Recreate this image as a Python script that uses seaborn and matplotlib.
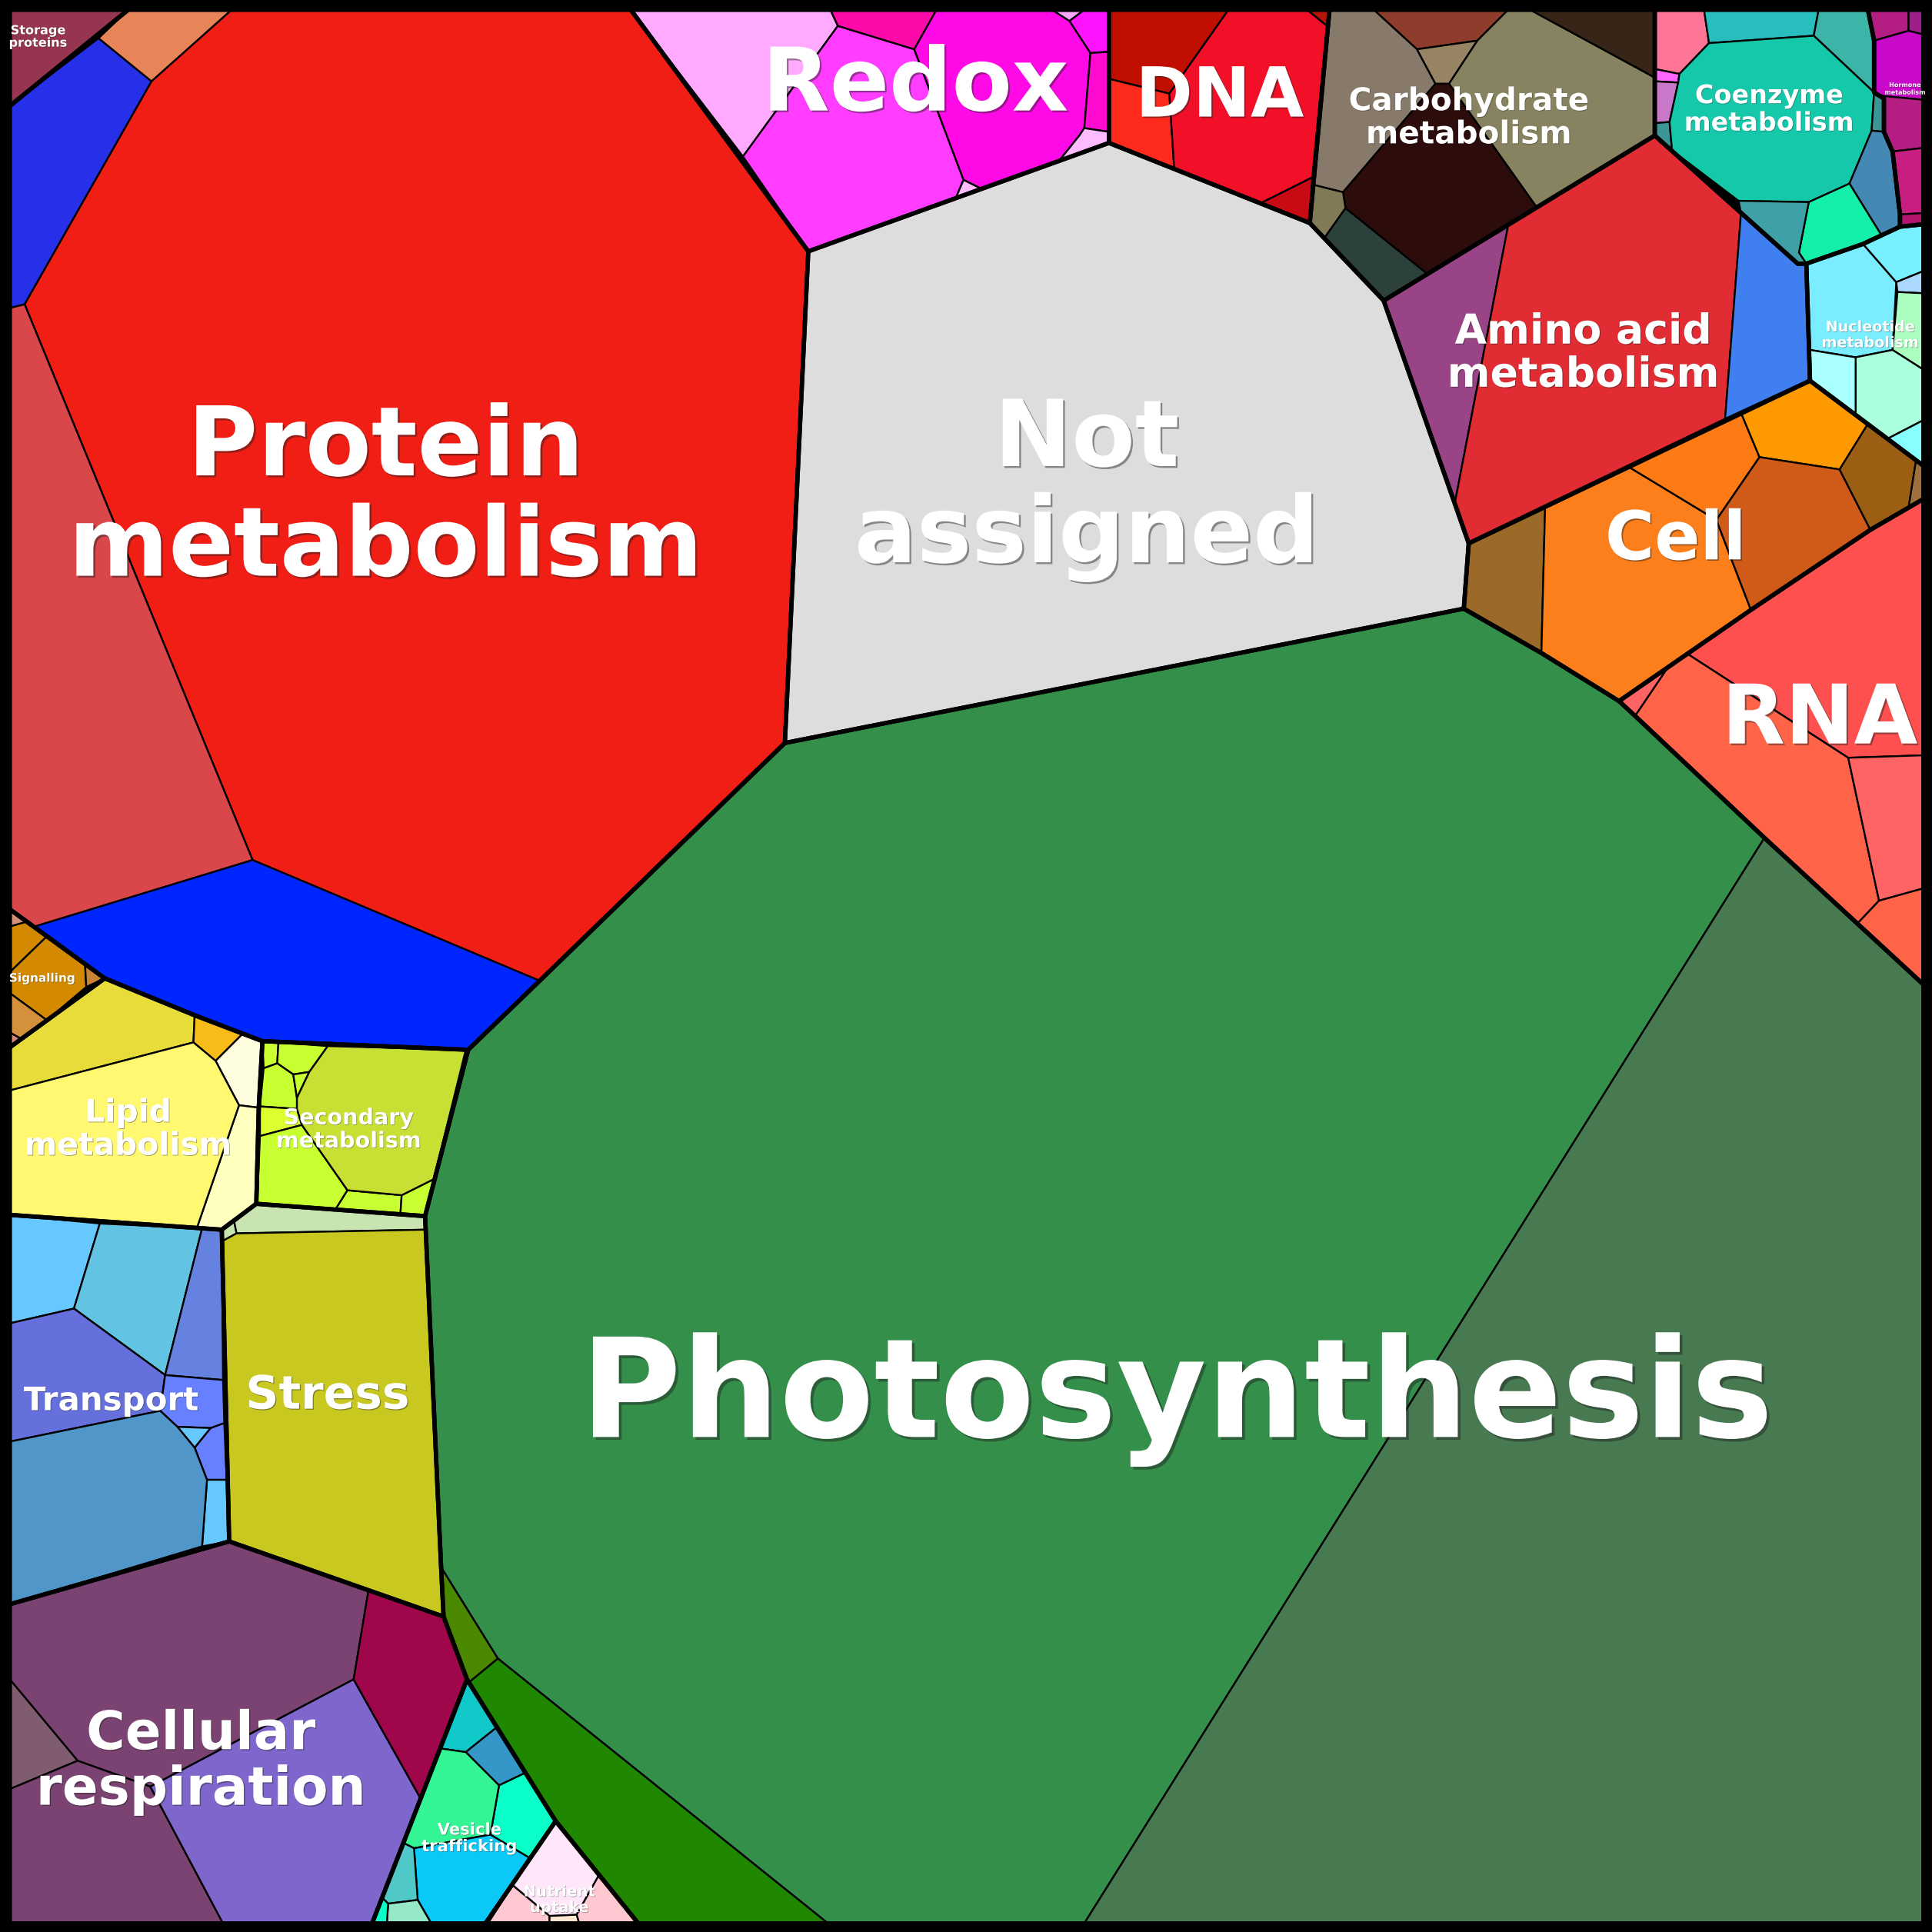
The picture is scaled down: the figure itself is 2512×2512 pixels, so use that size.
import matplotlib
matplotlib.use("Agg")
import matplotlib.pyplot as plt
import matplotlib.patheffects as pe
import seaborn as sns
import pandas as pd

# ---------------- DATA (cell polygons, 1568-px space) -------------
GROUPS = ["Storage proteins", "Protein metabolism", "Redox", "DNA", "Not assigned",
          "Carbohydrate metabolism", "Coenzyme metabolism", "Hormone metabolism",
          "Amino acid metabolism", "Nucleotide metabolism", "Cell", "RNA",
          "Photosynthesis", "Vesicle trafficking", "Nutrient uptake",
          "Cellular respiration", "Transport", "Stress", "Lipid metabolism",
          "Secondary metabolism", "Signalling"]

STORAGE_CELLS = [[(8, 8), (104, 8), (8, 86)]]
STORAGE_OUTLINE = [(8, 8), (104, 8), (8, 86)]

PROTEIN_CELLS = [
    [(8, 86), (80, 31), (123, 66), (20, 247), (8, 250)],
    [(80, 31), (104, 8), (188, 8), (123, 66)],
    [(123, 66), (188, 8), (512, 8), (656, 204), (637, 603), (438, 796), (205, 698), (20, 247)],
    [(8, 250), (20, 247), (205, 698), (28, 752), (8, 738)],
    [(28, 752), (205, 698), (438, 796), (380, 852), (213, 845), (158, 824), (85, 794)],
]
PROTEIN_OUTLINE = [(8, 86), (104, 8), (512, 8), (656, 204), (637, 603), (438, 796), (380, 852),
                   (213, 845), (158, 824), (85, 794), (8, 738)]

REDOX_CELLS = [
    [(512, 8), (674, 8), (680, 21), (603, 127)],
    [(603, 127), (680, 21), (742, 40), (782, 146), (776, 160), (656, 204)],
    [(674, 8), (760, 8), (742, 40), (680, 21)],
    [(742, 40), (760, 8), (854, 8), (868, 17), (885, 43), (880, 104), (876, 110), (860, 130),
     (796, 153), (782, 146)],
    [(782, 146), (796, 153), (776, 160)],
    [(854, 8), (880, 8), (868, 17)],
    [(868, 17), (880, 8), (900, 8), (900, 42), (885, 43)],
    [(885, 43), (900, 42), (900, 107), (880, 104)],
    [(880, 104), (900, 107), (900, 116), (860, 130), (876, 110)],
]
REDOX_OUTLINE = [(512, 8), (900, 8), (900, 116), (656, 204)]

DNA_CELLS = [
    [(900, 8), (997, 8), (949, 76), (900, 64)],
    [(900, 64), (949, 76), (953, 137), (900, 116)],
    [(949, 76), (997, 8), (1061, 8), (1077, 21), (1065, 144), (1023, 165), (963, 141), (953, 137)],
    [(1023, 165), (1065, 144), (1063, 181)],
    [(1061, 8), (1079, 8), (1077, 21)],
]
DNA_OUTLINE = [(900, 8), (1079, 8), (1063, 181), (900, 116)]

NOT_ASSIGNED_CELLS = [[(656, 204), (900, 116), (1063, 181), (1123, 244), (1192, 441),
                       (1188, 494), (637, 603)]]
NOT_ASSIGNED_OUTLINE = NOT_ASSIGNED_CELLS[0]

CARB_CELLS = [
    [(1115, 8), (1224, 8), (1199, 33), (1150, 40)],
    [(1079, 8), (1115, 8), (1150, 40), (1165, 68), (1090, 156), (1066, 150)],
    [(1150, 40), (1199, 33), (1176, 68), (1165, 68)],
    [(1224, 8), (1242, 8), (1343, 63), (1343, 110), (1247, 168), (1176, 68), (1199, 33)],
    [(1242, 8), (1343, 8), (1343, 63)],
    [(1165, 68), (1176, 68), (1247, 168), (1158, 222), (1092, 169), (1090, 156)],
    [(1066, 150), (1090, 156), (1092, 169), (1075, 193), (1063, 181)],
    [(1092, 169), (1158, 222), (1123, 244), (1075, 193)],
]
CARB_OUTLINE = [(1079, 8), (1343, 8), (1343, 110), (1123, 244), (1063, 181)]

COENZYME_CELLS = [
    [(1343, 8), (1383, 8), (1387, 35), (1363, 60), (1343, 56)],
    [(1343, 56), (1363, 60), (1362, 67), (1343, 66)],
    [(1343, 66), (1362, 67), (1355, 99), (1343, 100)],
    [(1343, 100), (1355, 99), (1357, 122), (1343, 110)],
    [(1383, 8), (1476, 8), (1472, 29), (1387, 35)],
    [(1476, 8), (1516, 8), (1521, 33), (1521, 75), (1472, 29)],
    [(1363, 60), (1387, 35), (1472, 29), (1521, 75), (1519, 106), (1501, 149), (1468, 164),
     (1411, 163), (1357, 122), (1355, 99), (1362, 67)],
    [(1521, 75), (1529, 80), (1529, 107), (1519, 106)],
    [(1519, 106), (1529, 107), (1536, 123), (1542, 174), (1542, 184), (1527, 191), (1501, 149)],
    [(1468, 164), (1501, 149), (1527, 191), (1512, 198), (1466, 214), (1460, 205)],
    [(1411, 163), (1468, 164), (1460, 205), (1466, 214), (1459, 214), (1413, 173)],
]
COENZYME_OUTLINE = [(1343, 8), (1516, 8), (1521, 33), (1521, 75), (1529, 80), (1529, 107),
                    (1536, 123), (1542, 174), (1542, 184), (1512, 198), (1466, 214),
                    (1459, 214), (1343, 110)]

HORMONE_CELLS = [
    [(1516, 8), (1549, 8), (1549, 25), (1521, 33)],
    [(1549, 8), (1561, 8), (1561, 28), (1549, 25)],
    [(1521, 33), (1549, 25), (1561, 28), (1561, 81), (1529, 78), (1521, 75)],
    [(1529, 78), (1561, 81), (1561, 120), (1536, 123), (1529, 107)],
    [(1536, 123), (1561, 120), (1561, 173), (1542, 174)],
    [(1542, 174), (1561, 173), (1561, 182), (1542, 184)],
]
HORMONE_OUTLINE = [(1516, 8), (1561, 8), (1561, 182), (1542, 184), (1542, 174), (1536, 123),
                   (1529, 107), (1529, 80), (1521, 75), (1521, 33)]

AMINO_CELLS = [
    [(1123, 244), (1224, 183), (1181, 407)],
    [(1224, 183), (1343, 110), (1413, 173), (1400, 341), (1192, 441), (1181, 407)],
    [(1413, 173), (1459, 214), (1466, 214), (1469, 309), (1400, 341)],
]
AMINO_OUTLINE = [(1123, 244), (1343, 110), (1459, 214), (1466, 214), (1469, 309),
                 (1400, 341), (1192, 441)]

NUCLEOTIDE_CELLS = [
    [(1466, 214), (1512, 198), (1539, 229), (1536, 284), (1506, 290), (1469, 284)],
    [(1512, 198), (1542, 184), (1561, 182), (1561, 220), (1539, 229)],
    [(1539, 229), (1561, 220), (1561, 238), (1540, 237)],
    [(1540, 237), (1561, 238), (1561, 300), (1536, 284)],
    [(1506, 290), (1536, 284), (1561, 300), (1561, 341), (1532, 356), (1506, 336)],
    [(1469, 284), (1506, 290), (1506, 336), (1469, 309)],
    [(1532, 356), (1561, 341), (1561, 378)],
]
NUCLEOTIDE_OUTLINE = [(1466, 214), (1512, 198), (1542, 184), (1561, 182), (1561, 378),
                      (1469, 309)]

CELL_CELLS = [
    [(1192, 441), (1254, 411), (1251, 530), (1188, 494)],
    [(1254, 411), (1322, 379), (1393, 422), (1421, 495), (1314, 569), (1251, 530)],
    [(1322, 379), (1400, 341), (1413, 335), (1428, 371), (1393, 422)],
    [(1413, 335), (1469, 309), (1516, 344), (1493, 381), (1428, 371)],
    [(1428, 371), (1493, 381), (1518, 430), (1421, 495), (1393, 422)],
    [(1493, 381), (1516, 344), (1555, 374), (1549, 412), (1518, 430)],
    [(1555, 374), (1561, 378), (1561, 405), (1549, 412)],
]
CELL_OUTLINE = [(1192, 441), (1469, 309), (1561, 378), (1561, 405), (1518, 430),
                (1421, 495), (1314, 569), (1251, 530), (1188, 494)]

RNA_CELLS = [
    [(1370, 531), (1421, 495), (1518, 430), (1561, 405), (1561, 613), (1500, 615)],
    [(1327, 581), (1354, 541), (1370, 531), (1500, 615), (1525, 731), (1508, 749), (1432, 680)],
    [(1314, 569), (1354, 541), (1327, 581)],
    [(1500, 615), (1561, 613), (1561, 721), (1525, 731)],
    [(1508, 749), (1525, 731), (1561, 721), (1561, 799)],
]
RNA_OUTLINE = [(1314, 569), (1421, 495), (1518, 430), (1561, 405), (1561, 799), (1432, 680),
               (1327, 581)]

PHOTO_CELLS = [
    [(637, 603), (1188, 494), (1251, 530), (1314, 569), (1327, 581), (1432, 680), (880, 1561),
     (672, 1561), (404, 1346), (358, 1272), (345, 987), (380, 852), (438, 796)],
    [(1432, 680), (1561, 799), (1561, 1561), (880, 1561)],
    [(381, 1365), (404, 1346), (672, 1561), (518, 1561), (451, 1478)],
    [(358, 1272), (404, 1346), (381, 1365), (379, 1363), (360, 1312)],
]
PHOTO_OUTLINE = [(637, 603), (1188, 494), (1251, 530), (1314, 569), (1327, 581), (1432, 680),
                 (1561, 799), (1561, 1561), (518, 1561), (451, 1478), (379, 1363), (360, 1312),
                 (358, 1272), (345, 987), (380, 852), (438, 796)]

VESICLE_CELLS = [
    [(379, 1363), (403, 1402), (378, 1422), (357, 1419)],
    [(403, 1402), (426, 1439), (405, 1449), (378, 1422)],
    [(426, 1439), (451, 1478), (430, 1508), (398, 1489), (405, 1449)],
    [(357, 1419), (378, 1422), (405, 1449), (398, 1489), (336, 1500), (328, 1496)],
    [(336, 1500), (398, 1489), (430, 1508), (394, 1561), (350, 1561), (339, 1542)],
    [(328, 1496), (336, 1500), (339, 1542), (315, 1545), (310, 1540)],
    [(315, 1545), (339, 1542), (350, 1561), (314, 1561)],
    [(310, 1540), (315, 1545), (314, 1561), (302, 1561)],
]
VESICLE_OUTLINE = [(379, 1363), (451, 1478), (394, 1561), (302, 1561)]

NUTRIENT_CELLS = [
    [(451, 1478), (486, 1522), (468, 1554), (446, 1555), (416, 1530)],
    [(416, 1530), (446, 1555), (446, 1561), (396, 1561)],
    [(486, 1522), (518, 1561), (470, 1561), (468, 1554)],
    [(446, 1555), (468, 1554), (470, 1561), (446, 1561)],
]
NUTRIENT_OUTLINE = [(451, 1478), (518, 1561), (394, 1561)]

RESPIRATION_CELLS = [
    [(8, 1302), (186, 1251), (299, 1291), (287, 1363), (122, 1450), (63, 1429), (8, 1363)],
    [(8, 1363), (63, 1429), (8, 1452)],
    [(8, 1452), (63, 1429), (122, 1450), (181, 1561), (8, 1561)],
    [(287, 1363), (341, 1459), (302, 1561), (181, 1561), (122, 1450)],
    [(299, 1291), (360, 1312), (379, 1363), (341, 1459), (287, 1363)],
]
RESPIRATION_OUTLINE = [(8, 1302), (186, 1251), (360, 1312), (379, 1363), (302, 1561), (8, 1561)]

TRANSPORT_CELLS = [
    [(8, 986), (81, 993), (60, 1062), (8, 1074)],
    [(81, 993), (164, 997), (134, 1116), (60, 1062)],
    [(164, 997), (180, 998), (181, 1120), (134, 1116)],
    [(8, 1074), (60, 1062), (134, 1116), (130, 1145), (8, 1170)],
    [(134, 1116), (181, 1120), (182, 1155), (171, 1159), (144, 1158), (130, 1145)],
    [(144, 1158), (171, 1159), (158, 1175)],
    [(171, 1159), (182, 1155), (184, 1201), (168, 1201), (158, 1175)],
    [(168, 1201), (184, 1201), (186, 1251), (164, 1255)],
    [(8, 1170), (130, 1145), (144, 1158), (158, 1175), (168, 1201), (164, 1255), (8, 1302)],
]
TRANSPORT_OUTLINE = [(8, 986), (180, 998), (186, 1251), (8, 1302)]

STRESS_CELLS = [
    [(180, 998), (190, 991), (192, 1001), (181, 1007)],
    [(190, 991), (208, 977), (345, 987), (345, 998), (192, 1001)],
    [(181, 1007), (192, 1001), (345, 998), (358, 1272), (360, 1312), (186, 1251)],
]
STRESS_OUTLINE = [(180, 998), (208, 977), (345, 987), (358, 1272), (360, 1312), (186, 1251)]

LIPID_CELLS = [
    [(8, 850), (85, 794), (158, 824), (157, 846), (8, 885)],
    [(158, 824), (197, 839), (175, 861), (157, 846)],
    [(197, 839), (213, 845), (210, 899), (194, 897), (175, 861)],
    [(194, 897), (210, 899), (208, 977), (180, 998), (160, 996)],
    [(8, 885), (157, 846), (175, 861), (194, 897), (160, 996), (8, 986)],
]
LIPID_OUTLINE = [(8, 850), (85, 794), (158, 824), (213, 845), (210, 899), (208, 977),
                 (180, 998), (8, 986)]

SECONDARY_CELLS = [
    [(213, 845), (226, 846), (225, 863), (214, 867)],
    [(226, 846), (266, 849), (251, 870), (238, 872), (225, 863)],
    [(214, 867), (225, 863), (238, 872), (241, 891), (241, 900), (211, 898)],
    [(238, 872), (251, 870), (241, 891)],
    [(211, 898), (241, 900), (245, 913), (211, 922)],
    [(211, 922), (245, 913), (282, 966), (272, 982), (221, 979), (208, 977), (209, 970)],
    [(282, 966), (326, 970), (325, 985), (272, 982)],
    [(326, 970), (352, 957), (345, 987), (325, 985)],
    [(266, 849), (378, 852), (352, 957), (326, 970), (282, 966), (245, 913), (241, 900),
     (241, 891), (251, 870)],
]
SECONDARY_OUTLINE = [(213, 845), (380, 852), (345, 987), (208, 977), (210, 899)]

SIGNALLING_CELLS = [
    [(8, 738), (22, 748), (8, 752)],
    [(8, 752), (22, 748), (38, 760), (8, 789)],
    [(8, 789), (38, 760), (69, 782), (70, 801), (38, 828), (8, 806)],
    [(69, 782), (85, 794), (70, 801)],
    [(8, 806), (38, 828), (17, 843), (8, 838)],
    [(8, 838), (17, 843), (8, 850)],
]
SIGNALLING_OUTLINE = [(8, 738), (85, 794), (8, 850)]

# ---------------- STYLE (colours, label layout) -----------------------------------------
STORAGE_COLORS = ["#963550"]
PROTEIN_COLORS = ["#2530e8", "#e88558", "#f01e14", "#d9474a", "#0026ff"]
REDOX_COLORS = ["#ffaaff", "#ff3cff", "#ff0aaa", "#ff0ae6", "#ffbbff", "#ffaaff",
                "#ff14ff", "#ff0ad0", "#ffbbff"]
DNA_COLORS = ["#c00f00", "#ff2a1e", "#f20f28", "#c80a14", "#b41408"]
NOT_ASSIGNED_COLORS = ["#dddddd"]
CARB_COLORS = ["#8e3c2c", "#877a6a", "#978463", "#878360", "#372518", "#2d0c0c",
               "#807a56", "#2c403c"]
COENZYME_COLORS = ["#ff7598", "#ff66ff", "#c878c8", "#3c9696", "#28bebe", "#3cb4a8",
                   "#16c8aa", "#3c9696", "#4488b4", "#14f0aa", "#40a0a8"]
HORMONE_COLORS = ["#b41e82", "#a01e8c", "#c80ac8", "#b41e82", "#c81e82", "#b4146e"]
AMINO_COLORS = ["#9a4488", "#e22c34", "#3f7ff0"]
NUCLEOTIDE_COLORS = ["#7aeeff", "#78f0ff", "#aad8ff", "#aaffbe", "#aaffdd", "#aaffff",
                     "#88ffff"]
CELL_COLORS = ["#9c6a28", "#fd7f1b", "#fd7a14", "#ff9900", "#d05a18", "#9c5e12", "#a0703c"]
RNA_COLORS = ["#ff5050", "#ff6448", "#ff6464", "#ff6464", "#ff6448"]
PHOTO_COLORS = ["#348f4a", "#487a52", "#1f8700", "#4a8800"]
VESICLE_COLORS = ["#10c8c8", "#3596c8", "#0affc8", "#33f596", "#0ac8f8", "#50c8c8",
                  "#96e8c8", "#0affc8"]
NUTRIENT_COLORS = ["#ffe6fa", "#ffc8d0", "#ffc8d0", "#ffe6d0"]
RESPIRATION_COLORS = ["#7b4372", "#805c70", "#7b4372", "#7f66cc", "#a0064a"]
TRANSPORT_COLORS = ["#66c8ff", "#62c4e2", "#6682e0", "#6670dc", "#6680ff", "#66c8ff",
                    "#6680ff", "#66c8ff", "#5096c8"]
STRESS_COLORS = ["#c8e4b0", "#c8e4b0", "#c8c820"]
LIPID_COLORS = ["#e8dc3a", "#f8bc18", "#fffde0", "#ffffc0", "#fff870"]
SECONDARY_COLORS = ["#c8ff30", "#c8ff30", "#c8ff30", "#c8ff30", "#dcff30", "#c8ff30",
                    "#c8ff30", "#c8ff30", "#c8e034"]
SIGNALLING_COLORS = ["#d4917a", "#d48a00", "#d48a00", "#c88432", "#d4903a", "#d48a7a"]

LABEL_TEXT = ["Storage\nproteins", "Protein\nmetabolism", "Redox", "DNA", "Not\nassigned",
              "Carbohydrate\nmetabolism", "Coenzyme\nmetabolism", "Hormone\nmetabolism",
              "Amino acid\nmetabolism", "Nucleotide\nmetabolism", "Cell", "RNA",
              "Photosynthesis", "Vesicle\ntrafficking", "Nutrient\nuptake",
              "Cellular\nrespiration", "Transport", "Stress", "Lipid\nmetabolism",
              "Secondary\nmetabolism", "Signalling"]
LABEL_X = [31, 313, 743, 990, 882, 1192, 1436, 1546, 1285, 1518, 1360, 1477, 955, 381, 454,
           163, 90, 266, 104, 283, 34]
LABEL_Y = [30, 405, 70, 79, 397, 96, 89, 72, 287, 272, 439, 585, 1136, 1492, 1542, 1430, 1137,
           1133, 917, 917, 794]
LABEL_SIZE = [11.6, 90, 82, 64.6, 86.5, 29.2, 24.1, 5.8, 38.6, 13.8, 63, 77, 129, 15.2, 14.2,
              49.7, 30.2, 43.1, 29.4, 20.6, 11.0]

# ---------------- DRAW -------------------------------------------------------------------
sns.set_theme(style="white")
plt.rcParams['font.family'] = ['DejaVu Sans']

THIN = 1.7   # pt
THICK = 4.0  # pt

fig = plt.figure(figsize=(25.12, 25.12), dpi=100, facecolor="black")
ax = fig.add_axes([0, 0, 1, 1])
ax.set_facecolor("black")

all_cells = [
    (STORAGE_CELLS, STORAGE_COLORS), (PROTEIN_CELLS, PROTEIN_COLORS), (REDOX_CELLS, REDOX_COLORS),
    (DNA_CELLS, DNA_COLORS), (NOT_ASSIGNED_CELLS, NOT_ASSIGNED_COLORS), (CARB_CELLS, CARB_COLORS),
    (COENZYME_CELLS, COENZYME_COLORS), (HORMONE_CELLS, HORMONE_COLORS),
    (AMINO_CELLS, AMINO_COLORS), (NUCLEOTIDE_CELLS, NUCLEOTIDE_COLORS), (CELL_CELLS, CELL_COLORS),
    (RNA_CELLS, RNA_COLORS), (PHOTO_CELLS, PHOTO_COLORS), (VESICLE_CELLS, VESICLE_COLORS),
    (NUTRIENT_CELLS, NUTRIENT_COLORS), (RESPIRATION_CELLS, RESPIRATION_COLORS),
    (TRANSPORT_CELLS, TRANSPORT_COLORS), (STRESS_CELLS, STRESS_COLORS),
    (LIPID_CELLS, LIPID_COLORS), (SECONDARY_CELLS, SECONDARY_COLORS),
    (SIGNALLING_CELLS, SIGNALLING_COLORS),
]
for cells, colors in all_cells:
    for poly, col in zip(cells, colors):
        xs, ys = zip(*poly)
        ax.fill(xs, ys, facecolor=col, edgecolor="black", linewidth=THIN, joinstyle="miter")

outlines = [STORAGE_OUTLINE, PROTEIN_OUTLINE, REDOX_OUTLINE, DNA_OUTLINE, NOT_ASSIGNED_OUTLINE,
            CARB_OUTLINE, COENZYME_OUTLINE, HORMONE_OUTLINE, AMINO_OUTLINE, NUCLEOTIDE_OUTLINE,
            CELL_OUTLINE, RNA_OUTLINE, PHOTO_OUTLINE, VESICLE_OUTLINE, NUTRIENT_OUTLINE,
            RESPIRATION_OUTLINE, TRANSPORT_OUTLINE, STRESS_OUTLINE, LIPID_OUTLINE,
            SECONDARY_OUTLINE, SIGNALLING_OUTLINE]
rows = []
for name, outline in zip(GROUPS, outlines):
    closed = list(outline) + [outline[0]]
    for i, (x, y) in enumerate(closed):
        rows.append({"group": name, "order": i, "x": x, "y": y})
df = pd.DataFrame(rows)
sns.lineplot(data=df, x="x", y="y", units="group", estimator=None, sort=False,
             color="black", linewidth=THICK, ax=ax, legend=False,
             solid_joinstyle="round", solid_capstyle="round")

for txt, x, y, s in zip(LABEL_TEXT, LABEL_X, LABEL_Y, LABEL_SIZE):
    off = max(0.5, s * 0.02)
    ax.text(x, y, txt, ha="center", va="center", fontsize=s, fontweight="bold",
            color="white", linespacing=1.1,
            path_effects=[pe.SimplePatchShadow(offset=(off, -off), shadow_rgbFace="#202020",
                                               alpha=0.45), pe.Normal()])

ax.set_xlim(0, 1568)
ax.set_ylim(1568, 0)
ax.axis("off")
fig.savefig("out.png", dpi=100, facecolor="black")
